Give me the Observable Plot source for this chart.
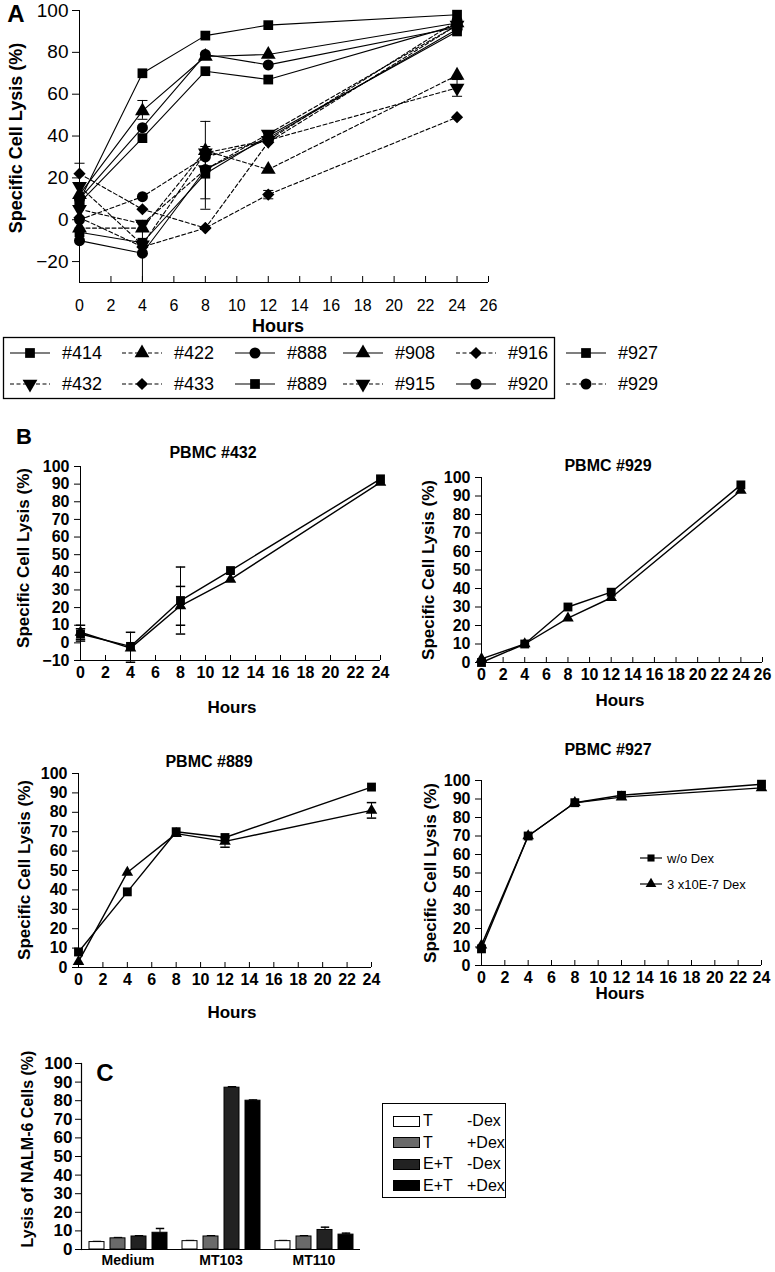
<!DOCTYPE html>
<html><head><meta charset="utf-8">
<script src="https://cdn.jsdelivr.net/npm/d3@7"></script>
<script src="https://cdn.jsdelivr.net/npm/@observablehq/plot@0.6"></script>
<style>
body{margin:0;background:#fff;}
#root{position:relative;width:775px;height:1272px;overflow:hidden;font-family:"Liberation Sans",Arial,sans-serif;color:#000;background:#fff;}
.abs{position:absolute;}
.lbl{position:absolute;font-weight:bold;white-space:nowrap;line-height:1;width:max-content;}
.rot{transform:translate(-50%,-50%) rotate(-90deg);}
.ctr{transform:translate(-50%,-50%);}
.legC{position:absolute;border:1.5px solid #000;box-sizing:border-box;font-size:16px;}
.legC .row{position:absolute;left:10px;height:14px;display:flex;align-items:center;white-space:nowrap;}
.legC .sw{width:27px;height:11px;border:1.2px solid #000;box-sizing:border-box;margin-right:3px;}
</style></head><body><div id="root"></div>
<script>
// ---------- Panel A data ----------
const hoursA = [0, 4, 8, 12, 24];
const donorsA = ["#414","#422","#888","#908","#916","#927","#432","#433","#889","#915","#920","#929"];
const lysis414 = [-6, -11, 22, 40, 90];
const lysis422 = [-4, -4, 33, 24, 69];
const lysis888 = [10, 44, 79, 74, 92];
const lysis908 = [12, 52, 78, 79, 94];
const lysis916 = [1, -13, -4, 12, 49];
const lysis927 = [9, 70, 88, 93, 98];
const lysis432 = [5, -2, 24, 41, 93];
const lysis433 = [22, 5, -4, 37, 93];
const lysis889 = [8, 39, 71, 67, 93];
const lysis915 = [16, -12, 32, 38, 63];
const lysis920 = [-10, -16, 24, 39, 91];
const lysis929 = [0, 11, 30, 38, 95];
const errHourA = [0, 4, 4, 8, 8, 12, 24];
const errLowA  = [17, -30, 48, 5, 10, 10, 59];
const errHighA = [27, -2, 57, 47, 35, 14, 67];
const xTicksA = [0,2,4,6,8,10,12,14,16,18,20,22,24,26];
const yTicksA = [-20,0,20,40,60,80,100];

// ---------- Panel B data ----------
const hoursB = [0, 4, 8, 12, 24];
const b432NoDex = [5, -2, 24, 41, 93];
const b432Dex   = [6, -3, 21, 36, 91];
const b929NoDex = [0, 10, 30, 38, 96];
const b929Dex   = [2, 10, 24, 35, 93];
const b889NoDex = [8, 39, 70, 67, 93];
const b889Dex   = [3, 49, 69, 65, 81];
const b927NoDex = [9, 70, 88, 92, 98];
const b927Dex   = [11, 70, 88, 91, 96];
const err432Hour = [0, 0, 4, 8, 8];
const err432Low  = [1, 2, -11, 5, 10];
const err432High = [10, 8, 6, 43, 32];
const err889Hour = [12, 24];
const err889Low  = [62, 77];
const err889High = [67, 85];
const legendB = ["w/o Dex", "3 x10E-7 Dex"];

// ---------- Panel C data ----------
const groupsC = ["Medium", "MT103", "MT110"];
const seriesC = ["T -Dex", "T +Dex", "E+T -Dex", "E+T +Dex"];
const cTMinus  = [4, 4.5, 4.5];
const cTPlus   = [6, 7, 7];
const cETMinus = [7, 87, 10.5];
const cETPlus  = [9, 80, 8];
const cTMinusErr  = [0.3, 0.3, 0.3];
const cTPlusErr   = [0.4, 0.4, 0.4];
const cETMinusErr = [0.4, 0.5, 1.5];
const cETPlusErr  = [2.3, 0.4, 0.8];

// ---------- helpers ----------
const FONT = '"Liberation Sans", Arial, sans-serif';
const root = document.getElementById("root");
function put(node, left, top){ const w=document.createElement("div"); w.className="abs"; w.style.left=left+"px"; w.style.top=top+"px"; w.appendChild(node); root.appendChild(w); return w; }
function label(text, x, y, size, rot=false, weight="bold"){ const d=document.createElement("div"); d.className="lbl "+(rot?"rot":"ctr"); d.style.left=x+"px"; d.style.top=y+"px"; d.style.fontSize=size+"px"; d.style.fontWeight=weight; d.textContent=text; root.appendChild(d); return d; }
const sqrt3 = Math.sqrt(3);
const triangleDown = { draw(ctx, size){ const y = -Math.sqrt(size/(sqrt3*3)); ctx.moveTo(0, -y*2); ctx.lineTo(-sqrt3*y, y); ctx.lineTo(sqrt3*y, y); ctx.closePath(); } };
const capSym = { draw(ctx, size){ const w = Math.sqrt(size)*0.95; ctx.moveTo(-w,0); ctx.lineTo(w,0); } };

// ---------- Panel A ----------
const seriesA = [lysis414,lysis422,lysis888,lysis908,lysis916,lysis927,lysis432,lysis433,lysis889,lysis915,lysis920,lysis929];
const dashedA = new Set(["#422","#916","#432","#433","#915","#929"]);
const symbolA = {"#414":"square","#422":"triangle","#888":"circle","#908":"triangle","#916":"diamond2","#927":"square",
                 "#432":triangleDown,"#433":"diamond2","#889":"square","#915":triangleDown,"#920":"circle","#929":"circle"};
const errA = errHourA.map((h,i)=>({h, lo: errLowA[i], hi: errHighA[i]}));
const marksA = [
  Plot.ruleX([xTicksA[0]]), Plot.ruleY([-30]),
  Plot.axisY({ticks: yTicksA, tickSize: 7, tickPadding: 4, fontSize: 19, label: null}),
  Plot.axisX({ticks: xTicksA, tickSize: -6, fill: "none", label: null}),
  Plot.axisX({ticks: xTicksA, tickSize: 0, tickPadding: 17, fontSize: 16, label: null}),
  Plot.ruleX(errA, {x:"h", y1:"lo", y2:"hi", strokeWidth:1}),
  Plot.dot(errA, {x:"h", y:"lo", symbol: capSym, stroke:"black", strokeWidth:1, r:3}),
  Plot.dot(errA, {x:"h", y:"hi", symbol: capSym, stroke:"black", strokeWidth:1, r:3})
];
donorsA.forEach((d,i)=>{
  const data = hoursA.map((h,j)=>({h, v: seriesA[i][j]}));
  marksA.push(Plot.line(data, {x:"h", y:"v", stroke:"black", strokeWidth:1.1, strokeDasharray: dashedA.has(d) ? "4,2.5" : undefined}));
});
donorsA.forEach((d,i)=>{
  const data = hoursA.map((h,j)=>({h, v: seriesA[i][j]}));
  marksA.push(Plot.dot(data, {x:"h", y:"v", symbol: symbolA[d], fill:"black", r: 5.5}));
});
const plotA = Plot.plot({
  width: 500, height: 320, marginLeft: 79, marginRight: 12, marginTop: 10, marginBottom: 38,
  x: {domain: [0, 26]}, y: {domain: [-30, 100]},
  style: {fontFamily: FONT, fontSize: "16px", overflow: "visible", background: "transparent"},
  marks: marksA
});
put(plotA, 0, 0);
label("A", 16, 14, 24);
label("Specific Cell Lysis (%)", 16, 138, 18, true);
label("Hours", 278, 326, 18);

// Legend A
const legendRowsA = [["#414","#422","#888","#908","#916","#927"],["#432","#433","#889","#915","#920","#929"]];
const legColX = [10, 122, 235, 343, 456, 566];
const legRowY = [23, 54];
const legSvg = d3.create("svg").attr("width", 775).attr("height", 75).style("overflow","visible");
legSvg.append("rect").attr("x",3.5).attr("y",7.5).attr("width",551).attr("height",61).attr("fill","none").attr("stroke","black").attr("stroke-width",1.3);
const symD3 = s => s === "square" ? d3.symbolSquare : s === "triangle" ? d3.symbolTriangle : s === "circle" ? d3.symbolCircle : s === "diamond2" ? d3.symbolDiamond2 : triangleDown;
legendRowsA.forEach((row, r) => row.forEach((d, c) => {
  const x0 = legColX[c], y = legRowY[r];
  legSvg.append("line").attr("x1", x0).attr("x2", x0+40).attr("y1", y).attr("y2", y).attr("stroke","black").attr("stroke-width",1.2)
    .attr("stroke-dasharray", dashedA.has(d) ? "4,2.5" : null);
  legSvg.append("path").attr("d", d3.symbol(symD3(symbolA[d]), 95)()).attr("transform", `translate(${x0+20},${y})`).attr("fill","black");
  legSvg.append("text").attr("x", x0+52).attr("y", y).attr("dy","0.36em").attr("font-family", FONT).attr("font-size", 18).text(d);
}));
put(legSvg.node(), 0, 330);

// ---------- Panel B ----------
function panelB({noDex, dex, errHour=[], errLow=[], errHigh=[], xMax, yMin, left, top, width, height, mL, mR, mT, mB}){
  const nd = hoursB.map((h,j)=>({h, v: noDex[j]}));
  const dx = hoursB.map((h,j)=>({h, v: dex[j]}));
  const er = errHour.map((h,i)=>({h, lo: errLow[i], hi: errHigh[i]}));
  const xt = d3.range(0, xMax+1, 2);
  const yt = d3.range(yMin, 101, 10);
  const p = Plot.plot({
    width, height, marginLeft: mL, marginRight: mR, marginTop: mT, marginBottom: mB,
    x: {domain: [0, xMax]}, y: {domain: [yMin, 100]},
    style: {fontFamily: FONT, fontSize: "16px", fontWeight: "bold", overflow: "visible", background: "transparent"},
    marks: [
      Plot.ruleX([0]), Plot.ruleY([yMin]),
      Plot.axisY({ticks: yt, tickSize: 6, tickPadding: 5, label: null}),
      Plot.axisX({ticks: xt, tickSize: -5, fill: "none", label: null}),
      Plot.axisX({ticks: xt, tickSize: 0, tickPadding: 6, label: null}),
      Plot.ruleX(er, {x:"h", y1:"lo", y2:"hi", strokeWidth:1}),
      Plot.dot(er, {x:"h", y:"lo", symbol: capSym, stroke:"black", r:2.8}),
      Plot.dot(er, {x:"h", y:"hi", symbol: capSym, stroke:"black", r:2.8}),
      Plot.line(nd, {x:"h", y:"v", stroke:"black", strokeWidth:1.4}),
      Plot.line(dx, {x:"h", y:"v", stroke:"black", strokeWidth:1.4}),
      Plot.dot(dx, {x:"h", y:"v", symbol:"triangle", fill:"black", r:4.3}),
      Plot.dot(nd, {x:"h", y:"v", symbol:"square", fill:"black", r:5})
    ]
  });
  put(p, left, top);
}
// #432: frame x 80..380, y 466..660
panelB({noDex:b432NoDex, dex:b432Dex, errHour:err432Hour, errLow:err432Low, errHigh:err432High, xMax:24, yMin:-10,
        left:0, top:440, width:400, height:250, mL:80, mR:20, mT:26, mB:30});
// #929: frame x 481..762, y 477..662
panelB({noDex:b929NoDex, dex:b929Dex, xMax:26, yMin:0, left:400, top:440, width:375, height:250, mL:81, mR:13, mT:37, mB:28});
// #889: frame x 78..371, y 773..967
panelB({noDex:b889NoDex, dex:b889Dex, errHour:err889Hour, errLow:err889Low, errHigh:err889High, xMax:24, yMin:0,
        left:0, top:745, width:400, height:250, mL:78, mR:29, mT:28, mB:28});
// #927: frame x 481..761, y 780..965
panelB({noDex:b927NoDex, dex:b927Dex, xMax:24, yMin:0, left:400, top:745, width:375, height:250, mL:81, mR:14, mT:35, mB:30});

label("B", 24, 437, 22);
label("PBMC #432", 213, 453, 16);
label("PBMC #929", 608, 466, 16);
label("PBMC #889", 209, 762, 16);
label("PBMC #927", 608, 750, 16);
label("Specific Cell Lysis (%)", 23, 558, 17, true);
label("Specific Cell Lysis (%)", 428, 570, 17, true);
label("Specific Cell Lysis (%)", 24, 870, 17, true);
label("Specific Cell Lysis (%)", 430, 873, 17, true);
label("Hours", 232, 707, 17);
label("Hours", 620, 700, 17);
label("Hours", 232, 1012, 17);
label("Hours", 620, 993, 17);

// Legend B
const legB = d3.create("svg").attr("width", 140).attr("height", 50).style("overflow","visible");
legendB.forEach((t, i) => {
  const y = 10 + i*26;
  legB.append("line").attr("x1",0).attr("x2",22).attr("y1",y).attr("y2",y).attr("stroke","black").attr("stroke-width",1.2);
  legB.append("path").attr("d", d3.symbol(i===0 ? d3.symbolSquare : d3.symbolTriangle, 50)()).attr("transform",`translate(11,${y})`).attr("fill","black");
  legB.append("text").attr("x", 27).attr("y", y).attr("dy","0.36em").attr("font-family",FONT).attr("font-size",13).text(t);
});
put(legB.node(), 640, 848);

// ---------- Panel C ----------
const valsC = [cTMinus, cTPlus, cETMinus, cETPlus];
const errsC = [cTMinusErr, cTPlusErr, cETMinusErr, cETPlusErr];
const barsC = [];
groupsC.forEach((g, gi) => seriesC.forEach((s, si) => barsC.push({g, s, v: valsC[si][gi], e: errsC[si][gi]})));
const plotC = Plot.plot({
  width: 380, height: 232, marginLeft: 80, marginRight: 19, marginTop: 23, marginBottom: 23,
  fx: {domain: groupsC, padding: 0, label: null},
  x: {domain: seriesC, paddingInner: 0.3, paddingOuter: 0.35, axis: null},
  y: {domain: [0, 100]},
  color: {domain: seriesC, range: ["#ffffff", "#6a6a6a", "#222222", "#000000"]},
  style: {fontFamily: FONT, fontSize: "17px", fontWeight: "bold", overflow: "visible", background: "transparent"},
  marks: [
    Plot.ruleX(barsC, {fx:"g", x:"s", y1:"v", y2: d => d.v + d.e, strokeWidth: 1}),
    Plot.dot(barsC, {fx:"g", x:"s", y: d => d.v + d.e, symbol: capSym, stroke:"black", r:2.5}),
    Plot.barY(barsC, {fx:"g", x:"s", y:"v", fill:"s", stroke:"black", strokeWidth:1}),
    Plot.ruleY([0], {strokeWidth: 1.2}),
    Plot.frame({anchor: "left", facetAnchor: "left", strokeWidth: 1.2}),
    Plot.axisY({ticks: d3.range(0, 101, 10), tickSize: 6, tickPadding: 3, label: null}),
    Plot.axisFx({anchor: "bottom", tickSize: 0, tickPadding: 6, fontSize: 14, label: null})
  ]
});
put(plotC, 0, 1040);
label("C", 105, 1073, 24);
label("Lysis of NALM-6 Cells (%)", 28, 1149, 16, true);

// Legend C
const legC = document.createElement("div");
legC.className = "legC";
legC.style.left = "382px"; legC.style.top = "1103px"; legC.style.width = "124px"; legC.style.height = "95px";
const fills = ["#ffffff", "#6a6a6a", "#222222", "#000000"];
const legCLeft = ["T", "T", "E+T", "E+T"];
const legCRight = ["-Dex", "+Dex", "-Dex", "+Dex"];
seriesC.forEach((s, i) => {
  const row = document.createElement("div");
  row.className = "row";
  row.style.top = (10 + i*21.5) + "px";
  row.innerHTML = `<div class="sw" style="background:${fills[i]}"></div><span style="display:inline-block;width:44px">${legCLeft[i]}</span><span>${legCRight[i]}</span>`;
  legC.appendChild(row);
});
root.appendChild(legC);
</script></body></html>
